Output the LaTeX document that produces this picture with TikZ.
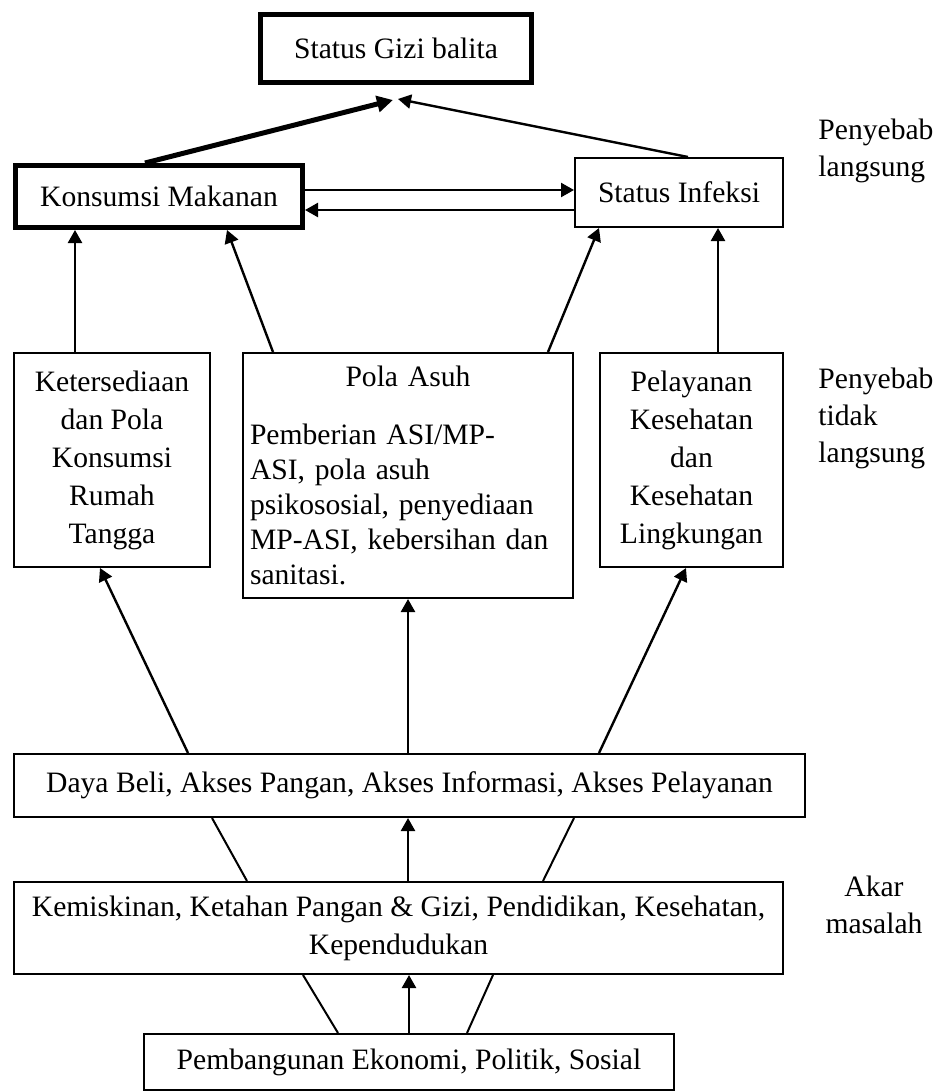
\documentclass[tikz,border=0pt]{standalone}
\usepackage{fontspec}
\setmainfont{Liberation Serif}
\usetikzlibrary{arrows.meta,calc}

\tikzset{
  box/.style={draw, line width=1pt, inner sep=0pt, align=center},
  thickbox/.style={box, line width=2.5pt},
  arr/.style={-{Triangle[length=6.5pt,width=7pt]}, line width=1.2pt},
  thickarr/.style={-{Triangle[length=8pt,width=8pt]}, line width=2.5pt},
  link/.style={line width=1pt},
  sidelabel/.style={inner sep=0pt, font=\fontsize{14.8pt}{18.5pt}\selectfont}
}

\begin{document}
\begin{tikzpicture}[x=0.5pt,y=-0.5pt,font=\fontsize{14.8pt}{19pt}\selectfont]
  \useasboundingbox (0,0) rectangle (947,1092);

  % direct causes
  \node[thickbox,minimum width=135.5pt,minimum height=34pt] (gizi) at (396,48.5) {Status Gizi balita};
  \node[thickbox,minimum width=143.5pt,minimum height=31pt] (kons) at (159,196.5) {Konsumsi Makanan};
  \node[box,minimum width=104pt,minimum height=34.5pt] (inf) at (679,192.5) {Status Infeksi};

  % indirect causes
  \node[box,minimum width=98pt,minimum height=107pt] (ket) at (112,460) {Ketersediaan\\dan Pola\\Konsumsi\\Rumah\\Tangga};
  \node[draw,line width=1pt,inner ysep=0pt,inner xsep=3.5pt,text width=158pt,minimum height=122.5pt,
        font=\fontsize{14.8pt}{17.5pt}\selectfont] (pola) at (408,475.5)
        {\centering Pola Asuh\par\vspace{11.5pt}\raggedright Pemberian ASI/MP-\\ASI, pola asuh\\psikososial, penyediaan\\MP-ASI, kebersihan dan\\sanitasi.\par};
  \node[box,minimum width=91.5pt,minimum height=107pt] (pel) at (691.5,460) {Pelayanan\\Kesehatan\\dan\\Kesehatan\\Lingkungan};

  % root causes
  \node[box,minimum width=395.5pt,minimum height=31.5pt] (daya) at (409.5,785.5) {Daya Beli, Akses Pangan, Akses Informasi, Akses Pelayanan};
  \node[box,minimum width=384.5pt,minimum height=46pt] (kem) at (398.5,928) {Kemiskinan, Ketahan Pangan \& Gizi, Pendidikan, Kesehatan,\\Kependudukan};
  \node[box,minimum width=265pt,minimum height=28pt] (pem) at (409,1062) {Pembangunan Ekonomi, Politik, Sosial};

  % side labels
  \node[sidelabel,align=left,anchor=west] (lang) at (818,151) {Penyebab\\langsung};
  \node[sidelabel,align=left,anchor=west] (tlang) at (818,418) {Penyebab\\tidak\\langsung};
  \node[sidelabel,align=center] (akar) at (874,905) {Akar\\masalah};

  % arrows into the top
  \draw[thickarr] (145,0 |- kons.north) -- ([shift={(-3,15)}]gizi.south);
  \draw[arr] (688,0 |- inf.north) -- ([shift={(2,14)}]gizi.south);
  \draw[arr] (kons.east |- 0,190) -- (inf.west |- 0,190);
  \draw[arr] (inf.west |- 0,210) -- (kons.east |- 0,210);

  \draw[arr] (75,0 |- ket.north) -- (75,0 |- kons.south);
  \draw[arr] (273,0 |- pola.north) -- (227,0 |- kons.south);
  \draw[arr] (548,0 |- pola.north) -- (599,0 |- inf.south);
  \draw[arr] (718,0 |- pel.north) -- (718,0 |- inf.south);

  \draw[arr] (188,0 |- daya.north) -- (100,0 |- ket.south);
  \draw[arr] (408,0 |- daya.north) -- (408,0 |- pola.south);
  \draw[arr] (599,0 |- daya.north) -- (686,0 |- pel.south);

  \draw[link] (247,0 |- kem.north) -- (212,0 |- daya.south);
  \draw[arr] (408,0 |- kem.north) -- (408,0 |- daya.south);
  \draw[link] (543,0 |- kem.north) -- (574,0 |- daya.south);

  \draw[link] (338,0 |- pem.north) -- (303,0 |- kem.south);
  \draw[arr] (409,0 |- pem.north) -- (409,0 |- kem.south);
  \draw[link] (467,0 |- pem.north) -- (493,0 |- kem.south);
\end{tikzpicture}
\end{document}
